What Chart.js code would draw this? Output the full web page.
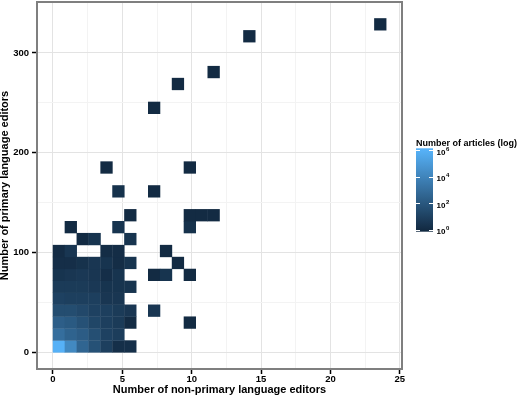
<!DOCTYPE html>
<html>
<head>
<meta charset="utf-8">
<script src="https://cdn.jsdelivr.net/npm/chart.js@4/dist/chart.umd.min.js"></script>
<style>
  html, body { margin: 0; padding: 0; background: #fff; }
  #wrap { position: relative; width: 520px; height: 398px; }
</style>
</head>
<body>
<div id="wrap"><canvas id="chart" width="520" height="398"></canvas></div>
<script>
// 2D histogram: articles by primary vs non-primary language editors
const X_BIN = 0.858;   // editors per column
const Y_BIN = 11.95;   // editors per row
const LOG_MAX = 6;     // top of the fill scale, log10(articles)

// one entry per filled cell: column, row, log10(number of articles)
const cellCol = [
  0, 1, 2, 3, 4, 5, 6,
  0, 1, 2, 3, 4, 5,
  0, 1, 2, 3, 4, 5, 6, 11,
  0, 1, 2, 3, 4, 5, 6, 8,
  0, 1, 2, 3, 4, 5,
  0, 1, 2, 3, 4, 5, 6,
  0, 1, 2, 3, 4, 5, 8, 9, 11,
  0, 1, 2, 3, 4, 5, 6, 10,
  0, 1, 4, 5, 9,
  2, 3, 6,
  1, 5, 11,
  6, 11, 12, 13,
  5, 8,
  4, 11,
  8,
  10,
  13,
  16,
  27
];
const cellRow = [
  0, 0, 0, 0, 0, 0, 0,
  1, 1, 1, 1, 1, 1,
  2, 2, 2, 2, 2, 2, 2, 2,
  3, 3, 3, 3, 3, 3, 3, 3,
  4, 4, 4, 4, 4, 4,
  5, 5, 5, 5, 5, 5, 5,
  6, 6, 6, 6, 6, 6, 6, 6, 6,
  7, 7, 7, 7, 7, 7, 7, 7,
  8, 8, 8, 8, 8,
  9, 9, 9,
  10, 10, 10,
  11, 11, 11, 11,
  13, 13,
  15, 15,
  20,
  22,
  23,
  26,
  27
];
const cellLog = [
  6.0, 4.2, 2.6, 1.7, 0.9, 0.2, 0.2,
  3.0, 2.5, 2.2, 1.6, 1.0, 0.8,
  2.3, 2.1, 1.7, 1.2, 0.9, 0.7, 0, 0,
  1.5, 1.5, 1.3, 1.0, 0.9, 0.7, 0.5, 0.5,
  1.0, 0.9, 0.9, 0.9, 0.5, 0.5,
  0.7, 0.7, 0.7, 0.6, 0.4, 0.4, 0.4,
  0.4, 0.5, 0.6, 0.5, 0.15, 0.4, 0, 0.4, 0,
  0.15, 0.15, 0.3, 0.5, 0.4, 0.1, 0.4, 0,
  0.05, 0.5, 0.1, 0.1, 0,
  0, 0.4, 0.4,
  0, 0.4, 0.3,
  0, 0, 0, 0,
  0.3, 0,
  0, 0,
  0,
  0,
  0,
  0,
  0
];

const xTicks = [0, 2.5, 5, 7.5, 10, 12.5, 15, 17.5, 20, 22.5, 25];
const yTicks = [0, 50, 100, 150, 200, 250, 300, 350];
const legendTicks = [0, 2, 4, 6];

const LOW = [19, 43, 67];     // #132B43
const HIGH = [86, 177, 247];  // #56B1F7
const FONT = "'Liberation Sans', Arial, sans-serif";

function fillFor(v){
  const t = Math.max(0, Math.min(1, v / LOG_MAX));
  const c = LOW.map((lo, i) => Math.round(lo + (HIGH[i] - lo) * t));
  return 'rgb(' + c.join(',') + ')';
}

function cellRadius(ctx){
  const xs = ctx.chart.scales.x;
  const side = xs.getPixelForValue(X_BIN) - xs.getPixelForValue(0) + 0.4;
  return side / Math.SQRT2;
}

const isMajorX = v => v % 5 === 0;
const isMajorY = v => v % 100 === 0;

// panel border + colour bar legend
const panelAndLegend = {
  id: 'panelAndLegend',
  afterDraw(chart){
    const { ctx, chartArea: a } = chart;
    ctx.save();
    ctx.strokeStyle = '#7f7f7f';
    ctx.lineWidth = 2;
    ctx.strokeRect(a.left, a.top, a.right - a.left, a.bottom - a.top);

    const barL = a.right + 14, barW = 17;
    const barTop = 148.3, barBot = 231.7;
    const inset = (barBot - barTop) / 40;
    const yFor = v => barBot - inset - v / LOG_MAX * (barBot - barTop - 2 * inset);

    const g = ctx.createLinearGradient(0, barBot - inset, 0, barTop + inset);
    for (let i = 0; i <= 10; i++) g.addColorStop(i / 10, fillFor(i / 10 * LOG_MAX));
    ctx.fillStyle = g;
    ctx.fillRect(barL, barTop, barW, barBot - barTop);

    ctx.fillStyle = '#000';
    ctx.font = 'bold 9px ' + FONT;
    ctx.textBaseline = 'alphabetic';
    ctx.textAlign = 'left';
    ctx.fillText('Number of articles (log)', barL, 145.5);

    ctx.strokeStyle = '#fff';
    ctx.lineWidth = 1;
    legendTicks.forEach(v => {
      const y = Math.round(yFor(v)) + 0.5;
      ctx.beginPath();
      ctx.moveTo(barL, y); ctx.lineTo(barL + 4, y);
      ctx.moveTo(barL + barW - 4, y); ctx.lineTo(barL + barW, y);
      ctx.stroke();
      ctx.font = 'bold 8px ' + FONT;
      ctx.fillText('10', barL + 20.5, yFor(v) + 4.4);
      const w = ctx.measureText('10').width;
      ctx.font = 'bold 6px ' + FONT;
      ctx.fillText(String(v), barL + 20.5 + w + 0.5, yFor(v) + 0.6);
    });
    ctx.restore();
  }
};

new Chart(document.getElementById('chart'), {
  type: 'scatter',
  data: {
    datasets: [{
      data: cellCol.map((c, i) => ({ x: (c + 0.5) * X_BIN, y: (cellRow[i] + 0.5) * Y_BIN })),
      pointStyle: 'rect',
      pointRadius: cellRadius,
      pointHoverRadius: cellRadius,
      pointBackgroundColor: ctx => fillFor(cellLog[ctx.dataIndex]),
      pointBorderWidth: 0,
      showLine: false
    }]
  },
  options: {
    responsive: false,
    animation: false,
    events: [],
    layout: { padding: { left: 0, right: 118, top: 2, bottom: 0 } },
    plugins: { legend: { display: false }, tooltip: { enabled: false } },
    scales: {
      x: {
        type: 'linear', min: -1.15, max: 25.16,
        afterBuildTicks: s => { s.ticks = xTicks.map(v => ({ value: v })); },
        afterFit: s => { s.height = 29; s.paddingLeft = 0; s.paddingRight = 0; },
        border: { display: false },
        grid: {
          color: c => isMajorX(c.tick.value) ? '#e3e3e3' : '#f3f3f3',
          lineWidth: 1,
          tickLength: 5,
          tickWidth: 1.5,
          tickColor: c => isMajorX(c.tick.value) ? '#000' : 'rgba(0,0,0,0)'
        },
        ticks: {
          autoSkip: false, maxRotation: 0, padding: 0, color: '#000',
          font: { family: FONT, size: 9.5, weight: 'bold' },
          callback: v => isMajorX(v) ? String(v) : ''
        },
        title: {
          display: true, text: 'Number of non-primary language editors', color: '#000',
          font: { family: FONT, size: 11, weight: 'bold', lineHeight: 1.2 },
          padding: { top: 0, bottom: 1 }
        }
      },
      y: {
        type: 'linear', min: -16.6, max: 351,
        afterBuildTicks: s => { s.ticks = yTicks.map(v => ({ value: v })); },
        afterFit: s => { s.width = 37; s.paddingTop = 0; s.paddingBottom = 0; },
        border: { display: false },
        grid: {
          color: c => isMajorY(c.tick.value) ? '#e3e3e3' : '#f3f3f3',
          lineWidth: 1,
          tickLength: 5,
          tickWidth: 1.5,
          tickColor: c => isMajorY(c.tick.value) ? '#000' : 'rgba(0,0,0,0)'
        },
        ticks: {
          autoSkip: false, padding: 3, color: '#000',
          font: { family: FONT, size: 9.5, weight: 'bold' },
          callback: v => isMajorY(v) ? String(v) : ''
        },
        title: {
          display: true, text: 'Number of primary language editors', color: '#000',
          font: { family: FONT, size: 11, weight: 'bold', lineHeight: 0.82 },
          padding: { top: 0, bottom: 0 }
        }
      }
    }
  },
  plugins: [panelAndLegend]
});
</script>
</body>
</html>
